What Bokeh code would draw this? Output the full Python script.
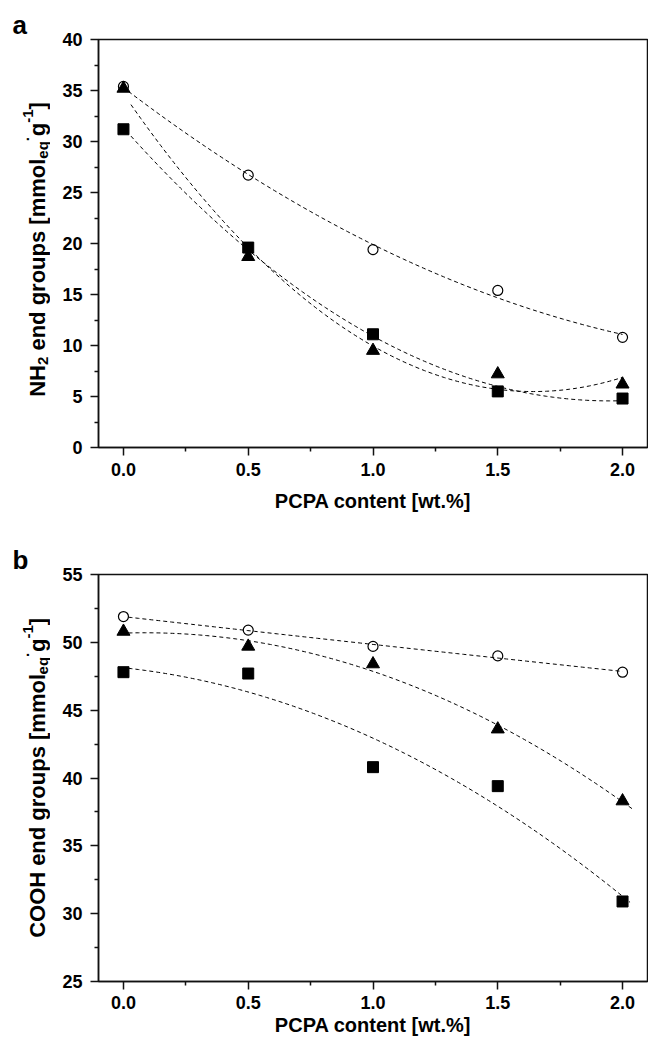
import numpy as np
from bokeh.plotting import figure
from bokeh.models import FixedTicker, Range1d
from bokeh.layouts import column, row
from bokeh.embed import file_html
from bokeh.resources import INLINE
from bokeh.core.properties import value

# ---------------- data ----------------
pcpa = [0.0, 0.5, 1.0, 1.5, 2.0]
x_tick_labels = ["0.0", "0.5", "1.0", "1.5", "2.0"]

nh2_circle = [35.4, 26.7, 19.4, 15.4, 10.8]
nh2_triangle = [35.2, 18.7, 9.5, 7.2, 6.2]
nh2_square = [31.2, 19.6, 11.1, 5.5, 4.8]
nh2_ticks = [0, 5, 10, 15, 20, 25, 30, 35, 40]

cooh_circle = [51.9, 50.9, 49.7, 49.0, 47.8]
cooh_triangle = [50.8, 49.7, 48.4, 43.6, 38.3]
cooh_square = [47.8, 47.7, 40.8, 39.4, 30.9]
cooh_ticks = [25, 30, 35, 40, 45, 50, 55]

nh2_label = [("NH", "n"), ("2", "sub"), (" end groups [mmol", "n"), ("eq", "sub"),
             ("\u00b7", "sup"), ("g", "n"), ("-1", "sup"), ("]", "n")]
cooh_label = [("COOH", "n"), (" end groups [mmol", "n"), ("eq", "sub"),
              ("\u00b7", "sup"), ("g", "n"), ("-1", "sup"), ("]", "n")]
x_label = "PCPA content [wt.%]"

# ---------------- styling / layout ----------------
FONT = "Liberation Sans"
MAIN = 22
SMALL = 15
W = 648
LW = 50                 # width of the strip holding the rotated y title and letter
BL, BR = 98 - LW, 1
FRAME_H = 408
X0, X1 = -0.1, 2.1

# Arial/Liberation Sans Bold advance widths (per 1000 em)
ADV = {' ': 278, 'N': 722, 'H': 722, 'C': 722, 'O': 778, 'e': 556, 'n': 611, 'd': 611,
       'g': 611, 'r': 389, 'o': 611, 'u': 611, 'p': 611, 's': 556, '[': 333, ']': 333,
       'm': 889, 'l': 278, 'q': 611, '\u00b7': 333, '-': 333, '1': 556, '2': 556}


def tw(s, size):
    return sum(ADV.get(c, 556) for c in s) * size / 1000.0


def label_strip(yticks, height, btop, bbot, pieces, base_x, start_px, letter):
    """Narrow figure (same frame height as the chart) holding the rotated y title."""
    s = figure(width=LW, height=height, x_range=Range1d(0, LW),
               y_range=Range1d(yticks[0], yticks[-1]), output_backend="svg",
               toolbar_location=None, title=letter,
               x_axis_location=None, y_axis_location=None,
               min_border_left=0, min_border_right=0,
               min_border_top=btop, min_border_bottom=bbot)
    s.title.align = "left"
    s.title.offset = 12
    s.title.standoff = 0
    s.title.text_font = FONT
    s.title.text_font_size = "26px"
    s.title.text_font_style = "bold"
    s.title.text_color = "black"
    s.xgrid.visible = False
    s.ygrid.visible = False
    s.outline_line_color = None
    s.background_fill_color = "white"
    s.border_fill_color = "white"
    px_y = FRAME_H / (yticks[-1] - yticks[0])
    xs, ys, txts, sizes = [], [], [], []
    y = start_px
    for txt, kind in pieces:
        size = MAIN if kind == "n" else SMALL
        dx = {"n": 0, "sub": 5, "sup": -10}[kind]
        core = txt.lstrip(" ")
        y += tw(txt[:len(txt) - len(core)], size)   # leading space kept as a gap
        xs.append(base_x + dx)
        ys.append(yticks[0] + y / px_y)
        txts.append(core)
        sizes.append(f"{size}px")
        y += tw(core, size)
    s.text(x=xs, y=ys, text=txts, angle=np.pi / 2, text_align="left",
           text_baseline="alphabetic", text_font=value(FONT),
           text_font_size=sizes, text_font_style="bold", text_color="black")
    return s


def make_panel(yticks, height, border_top, border_bottom, label_standoff,
               axis_label_standoff):
    p = figure(width=W - LW, height=height, x_range=Range1d(X0, X1),
               y_range=Range1d(yticks[0], yticks[-1]), output_backend="svg",
               toolbar_location=None, title=None,
               min_border_left=BL, min_border_right=BR, min_border_top=border_top,
               min_border_bottom=border_bottom)
    p.xgrid.visible = False
    p.ygrid.visible = False
    p.background_fill_color = "white"
    p.border_fill_color = "white"
    p.outline_line_color = "#111111"
    p.outline_line_width = 1.5

    xminor = [(a + b) / 2 for a, b in zip(pcpa[:-1], pcpa[1:])]
    yminor = [(a + b) / 2 for a, b in zip(yticks[:-1], yticks[1:])]
    p.xaxis.ticker = FixedTicker(ticks=pcpa, minor_ticks=xminor)
    p.yaxis.ticker = FixedTicker(ticks=yticks, minor_ticks=yminor)
    p.xaxis.major_label_overrides = {float(v): s for v, s in zip(pcpa, x_tick_labels)}

    for ax in (p.xaxis, p.yaxis):
        ax.axis_line_color = "#111111"
        ax.axis_line_width = 1.5
        ax.major_tick_line_color = "#111111"
        ax.major_tick_line_width = 1.5
        ax.minor_tick_line_color = "#111111"
        ax.minor_tick_line_width = 1.5
        ax.major_tick_in = 0
        ax.major_tick_out = 8
        ax.minor_tick_in = 0
        ax.minor_tick_out = 4
        ax.major_label_text_font = FONT
        ax.major_label_text_font_size = "18px"
        ax.major_label_text_font_style = "bold"
        ax.major_label_text_color = "black"
    p.xaxis.major_label_standoff = label_standoff
    p.yaxis.major_label_standoff = 8

    p.xaxis.axis_label = x_label
    p.xaxis.axis_label_text_font = FONT
    p.xaxis.axis_label_text_font_size = "20px"
    p.xaxis.axis_label_text_font_style = "bold"
    p.xaxis.axis_label_text_color = "black"
    p.xaxis.axis_label_standoff = axis_label_standoff
    return p


def draw_series(p, circ, tri, sq, ext):
    for ys, (lo, hi) in zip((circ, tri, sq), ext):
        coef = np.polyfit(pcpa, ys, 2)
        xs = np.linspace(lo, hi, 150)
        p.line(xs, np.polyval(coef, xs), line_color="black", line_width=1,
               line_dash="4 3")
    p.scatter(pcpa, circ, marker="circle", size=10, fill_color=None,
              line_color="black", line_width=1.2)
    p.scatter(pcpa, tri, marker="triangle", size=13, fill_color="black",
              line_color="black")
    p.scatter(pcpa, sq, marker="square", size=11, fill_color="black",
              line_color="black")


# ---------------- panel a ----------------
HA = 542
pa = make_panel(nh2_ticks, HA, 39, 95, 7, 11)
draw_series(pa, nh2_circle, nh2_triangle, nh2_square,
            [(0.02, 2.0), (0.03, 2.0), (0.03, 2.0)])
la = label_strip(nh2_ticks, HA, 39, 95, nh2_label, 37, 50.7, "a")

# ---------------- panel b ----------------
HB = 501
pb = make_panel(cooh_ticks, HB, 31, 62, 6, 2)
draw_series(pb, cooh_circle, cooh_triangle, cooh_square,
            [(0.02, 2.0), (0.02, 2.04), (0.02, 2.03)])
lb = label_strip(cooh_ticks, HB, 31, 62, cooh_label, 37, 43.8, "b")

layout = column(row(la, pa), row(lb, pb))
open("out.html", "w").write(file_html(layout, INLINE))
